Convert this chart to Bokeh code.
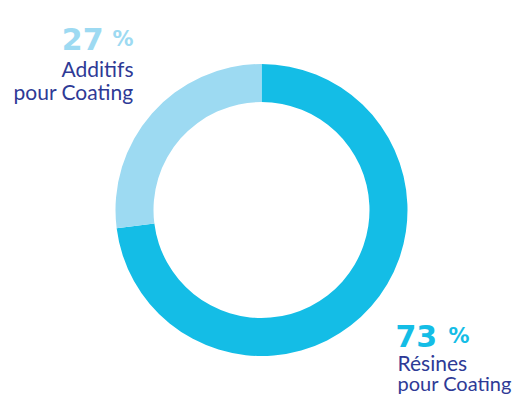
from math import pi
import numpy as np
from bokeh.plotting import figure
from bokeh.models import Range1d
from bokeh.core.properties import value
from bokeh.embed import file_html
from bokeh.resources import INLINE

# ---- data ----
categories = ["Résines pour Coating", "Additifs pour Coating"]
shares = [73, 27]
colors = ["#14BDE6", "#9DDAF2"]
pct_labels = ["73", "27"]
name_line1 = ["Résines", "Additifs"]
name_line2 = ["pour Coating", "pour Coating"]

TEXT_COLOR = "#2E3A96"
FONT = "Lato"
NUM_FONT = "DejaVu Sans"

W, H = 517, 394
IMG_H = 394
p = figure(width=W, height=H, output_backend="svg", toolbar_location=None,
           x_range=Range1d(0, W), y_range=Range1d(IMG_H - H, IMG_H),
           min_border=0)
p.axis.visible = False
p.grid.visible = False
p.outline_line_color = None

frac = np.array(shares, dtype=float) / sum(shares)
cum_after = np.cumsum(frac)
cum_before = cum_after - frac
start = pi / 2 - 2 * pi * cum_before
end = pi / 2 - 2 * pi * cum_after

cx, cy = 261, IMG_H - 209.5
p.annular_wedge(x=cx, y=cy, inner_radius=108, outer_radius=146,
                start_angle=start, end_angle=end, direction="clock",
                fill_color=colors, line_color=None)

def Y(v):
    return IMG_H - v

# Left block (Additifs) - right aligned
i = 1
p.text(x=[103], y=[Y(38)], text=[pct_labels[i]], text_align="right", text_baseline="alphabetic",
       text_font=value(NUM_FONT), text_font_style="bold", text_font_size="30px", text_color=colors[i])
p.text(x=[133], y=[Y(38)], text=["%"], text_align="right", text_baseline="alphabetic",
       text_font=value(NUM_FONT), text_font_style="bold", text_font_size="21px", text_color=colors[i])
p.text(x=[133, 133], y=[Y(68), Y(91)], text=[name_line1[i], name_line2[i]], text_align="right",
       text_baseline="alphabetic", text_font=value(FONT), text_font_size="21px", text_color=TEXT_COLOR)

# Right block (Résines) - left aligned
i = 0
p.text(x=[395], y=[Y(335)], text=[pct_labels[i]], text_align="left", text_baseline="alphabetic",
       text_font=value(NUM_FONT), text_font_style="bold", text_font_size="30px", text_color=colors[i])
p.text(x=[448], y=[Y(335)], text=["%"], text_align="left", text_baseline="alphabetic",
       text_font=value(NUM_FONT), text_font_style="bold", text_font_size="21px", text_color=colors[i])
p.text(x=[397], y=[Y(362)], text=[name_line1[i]], text_align="left",
       text_baseline="alphabetic", text_font=value(FONT), text_font_size="21px", text_color=TEXT_COLOR)
p.text(x=[397], y=[Y(382)], text=[name_line2[i]], text_align="left",
       text_baseline="alphabetic", text_font=value(FONT), text_font_size="20px", text_color=TEXT_COLOR)

open("out.html", "w").write(file_html(p, INLINE))
